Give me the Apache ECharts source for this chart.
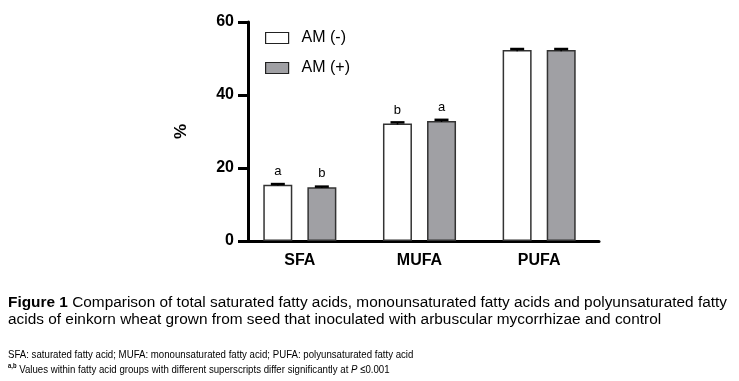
<!DOCTYPE html>
<html>
<head>
<meta charset="utf-8">
<script src="https://cdn.jsdelivr.net/npm/echarts@6/dist/echarts.min.js"></script>
<style>
  html, body { margin: 0; padding: 0; background: #fff; }
  #chart { width: 739px; height: 381px; }
</style>
</head>
<body>
<div id="chart"></div>
<script>
// categories and values
const groups = ["SFA", "MUFA", "PUFA"];
const amMinus = [15.4, 32.2, 52.3];
const amPlus = [14.7, 32.9, 52.3];
const errMinus = [0.2, 0.3, 0.3];
const errPlus = [0.2, 0.3, 0.3];
const lettersMinus = ["a", "b", ""];
const lettersPlus = ["b", "a", ""];

const chart = echarts.init(document.getElementById("chart"));
const FONT = "Liberation Sans, Arial, sans-serif";

// error bar drawn as a short thick cap above each bar
const errorSeries = (name, values, errs, idx) => ({
  name: name + "-err",
  type: "custom",
  z: 10,
  data: values.map((v, i) => [i, v - errs[i], v + errs[i]]),
  renderItem: (params, api) => {
    const lo = api.coord([api.value(0), api.value(1)]);
    const hi = api.coord([api.value(0), api.value(2)]);
    const shift = (idx === 0 ? -1 : 1) * 22;
    const x = lo[0] + shift;
    const half = 7;
    return {
      type: "group",
      children: [
        { type: "line", shape: { x1: x, y1: hi[1], x2: x, y2: lo[1] }, style: { stroke: "#000", lineWidth: 1.5 } },
        { type: "line", shape: { x1: x - half, y1: hi[1], x2: x + half, y2: hi[1] }, style: { stroke: "#000", lineWidth: 2.5 } }
      ]
    };
  }
});

chart.setOption({
  animation: false,
  textStyle: { fontFamily: FONT },
  grid: { left: 240, right: 140, top: 22, bottom: 140 },
  legend: {
    left: 260,
    top: 25,
    orient: "vertical",
    icon: "rect",
    itemWidth: 23,
    itemHeight: 11,
    itemGap: 14,
    data: ["AM (-)", "AM (+)"],
    itemStyle: { borderColor: "#222", borderWidth: 1.2 },
    textStyle: { fontSize: 16, color: "#000", fontFamily: FONT, padding: [0, 0, 0, 8] }
  },
  xAxis: {
    type: "category",
    data: groups,
    axisLine: { lineStyle: { color: "#000", width: 3 } },
    axisTick: { alignWithLabel: true, length: 7, lineStyle: { width: 3, color: "#000" } },
    axisLabel: { fontSize: 16, fontWeight: "bold", color: "#000", margin: 12 }
  },
  yAxis: {
    type: "value",
    min: 0,
    max: 60,
    interval: 20,
    offset: -8,
    name: "%",
    nameLocation: "middle",
    nameGap: 58,
    nameRotate: 90,
    nameTextStyle: { fontSize: 17, fontWeight: "bold", color: "#000" },
    splitLine: { show: false },
    axisLine: { show: true, lineStyle: { color: "#000", width: 3 } },
    axisTick: { show: true, length: 10, lineStyle: { width: 3, color: "#000" } },
    axisLabel: { fontSize: 16, fontWeight: "bold", color: "#000", margin: 14 }
  },
  series: [
    {
      name: "AM (-)",
      type: "bar",
      data: amMinus,
      barWidth: 29,
      barGap: "52%",
      itemStyle: { color: "#fff", borderColor: "#333", borderWidth: 1.5 },
      label: {
        show: true, position: "top", distance: 7, fontSize: 13, color: "#000",
        formatter: (p) => lettersMinus[p.dataIndex]
      }
    },
    {
      name: "AM (+)",
      type: "bar",
      data: amPlus,
      barWidth: 29,
      itemStyle: { color: "#a0a0a4", borderColor: "#333", borderWidth: 1.5 },
      label: {
        show: true, position: "top", distance: 7, fontSize: 13, color: "#000",
        formatter: (p) => lettersPlus[p.dataIndex]
      }
    },
    errorSeries("AM (-)", amMinus, errMinus, 0),
    errorSeries("AM (+)", amPlus, errPlus, 1)
  ],
  graphic: [
    {
      type: "text", x: 8, y: 295, scaleX: 1.1, scaleY: 1,
      style: {
        text: "{b|Figure 1} Comparison of total saturated fatty acids, monounsaturated fatty acids and polyunsaturated fatty\nacids of einkorn wheat grown from seed that inoculated with arbuscular mycorrhizae and control",
        font: "14px " + FONT, fill: "#000", lineHeight: 17,
        rich: { b: { font: "bold 14px " + FONT, fill: "#000" } }
      }
    },
    {
      type: "text", x: 8, y: 349, scaleX: 0.84, scaleY: 1,
      style: {
        text: "SFA: saturated fatty acid; MUFA: monounsaturated fatty acid; PUFA: polyunsaturated fatty acid",
        font: "11.5px " + FONT, fill: "#000"
      }
    },
    {
      type: "text", x: 8, y: 363, scaleX: 0.84, scaleY: 1,
      style: {
        text: "{s|a,b} Values within fatty acid groups with different superscripts differ significantly at {i|P} ≤0.001",
        font: "11.5px " + FONT, fill: "#000", lineHeight: 14,
        rich: {
          s: { font: "bold 7px " + FONT, fill: "#000", verticalAlign: "top", padding: [0, 0, 6, 0] },
          i: { font: "italic 11.5px " + FONT, fill: "#000" }
        }
      }
    }
  ]
});
</script>
</body>
</html>
